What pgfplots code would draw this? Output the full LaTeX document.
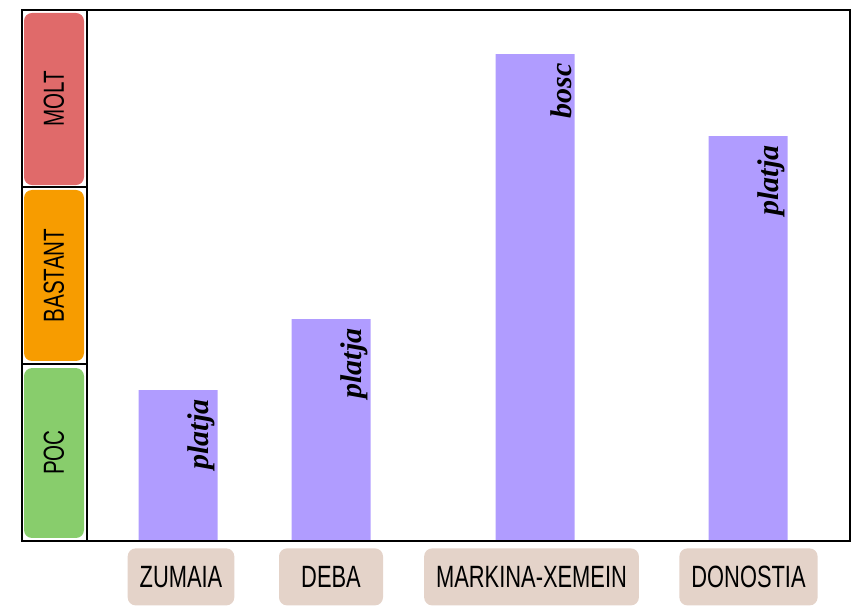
\documentclass[border=0pt]{standalone}
\usepackage{pgfplots}
\pgfplotsset{compat=1.18}
\usepackage{pgfplotstable}
\usepackage{fontspec}
\setmainfont{Liberation Sans}
\newfontfamily\handfont[FakeStretch=0.71]{Liberation Sans}
\newfontfamily\cursive{Liberation Serif}

\definecolor{barpurple}{HTML}{B09CFF}
\definecolor{moltred}{HTML}{E06A6A}
\definecolor{bastorange}{HTML}{F79C00}
\definecolor{pocgreen}{HTML}{88CD6C}
\definecolor{labelbeige}{HTML}{E4D3C9}

% x in pixel columns, y in levels (0 = none, 1 = POC, 2 = BASTANT, 3 = MOLT)
\pgfplotstableread{
x   y     label
178 0.853 platja
331 1.254 platja
535 2.751 bosc
748 2.288 platja
}\bars

\begin{document}
\begin{tikzpicture}
\begin{axis}[
    scale only axis,
    width=414pt, height=265.5pt,
    xmin=22, xmax=850,
    ymin=0, ymax=3,
    axis on top,
    axis line style={black, line width=1pt},
    ytick=\empty,
    xtick={181,331,531.5,748.5},
    xticklabels={ZUMAIA,DEBA,MARKINA-XEMEIN,DONOSTIA},
    major tick length=0pt,
    xticklabel style={
        font=\handfont\fontsize{15.4pt}{18pt}\selectfont,
        fill=labelbeige, rounded corners=4pt,
        minimum height=28.5pt, minimum width=52pt, inner xsep=6pt,
        anchor=north, yshift=-3.5pt},
    ybar, bar width=79,
    clip=false,
    nodes near coords,
    point meta=explicit symbolic,
    every node near coord/.style={
        xshift=18.5pt, yshift=-4.5pt, rotate=90, anchor=south east,
        inner sep=0pt, text=black,
        font=\cursive\bfseries\itshape\fontsize{15pt}{17pt}\selectfont},
]
  % level boxes in the left column
  \fill[moltred, rounded corners=4pt] (axis cs:24,2.011) rectangle (axis cs:84,2.983);
  \fill[bastorange, rounded corners=4pt] (axis cs:24,1.017) rectangle (axis cs:84,1.983);
  \fill[pocgreen, rounded corners=4pt] (axis cs:24,0.017) rectangle (axis cs:84,0.977);
  \draw[line width=1pt] (axis cs:87,0) -- (axis cs:87,3);
  \draw[line width=1pt] (axis cs:22,1) -- (axis cs:87,1);
  \draw[line width=1pt] (axis cs:22,2) -- (axis cs:87,2);
  \node[rotate=90, font=\handfont\fontsize{14.5pt}{16pt}\selectfont] at (axis cs:54,2.5) {MOLT};
  \node[rotate=90, font=\handfont\fontsize{14.5pt}{16pt}\selectfont] at (axis cs:54,1.5) {BASTANT};
  \node[rotate=90, font=\handfont\fontsize{14.5pt}{16pt}\selectfont] at (axis cs:54,0.5) {POC};

  \addplot[fill=barpurple, draw=none] table[x=x, y=y, meta=label] {\bars};

  \coordinate (bl) at (axis cs:0,-0.401);
  \coordinate (tr) at (axis cs:865,3.0565);
\end{axis}
\pgfresetboundingbox
\path[use as bounding box] (bl) rectangle (tr);
\end{tikzpicture}
\end{document}
